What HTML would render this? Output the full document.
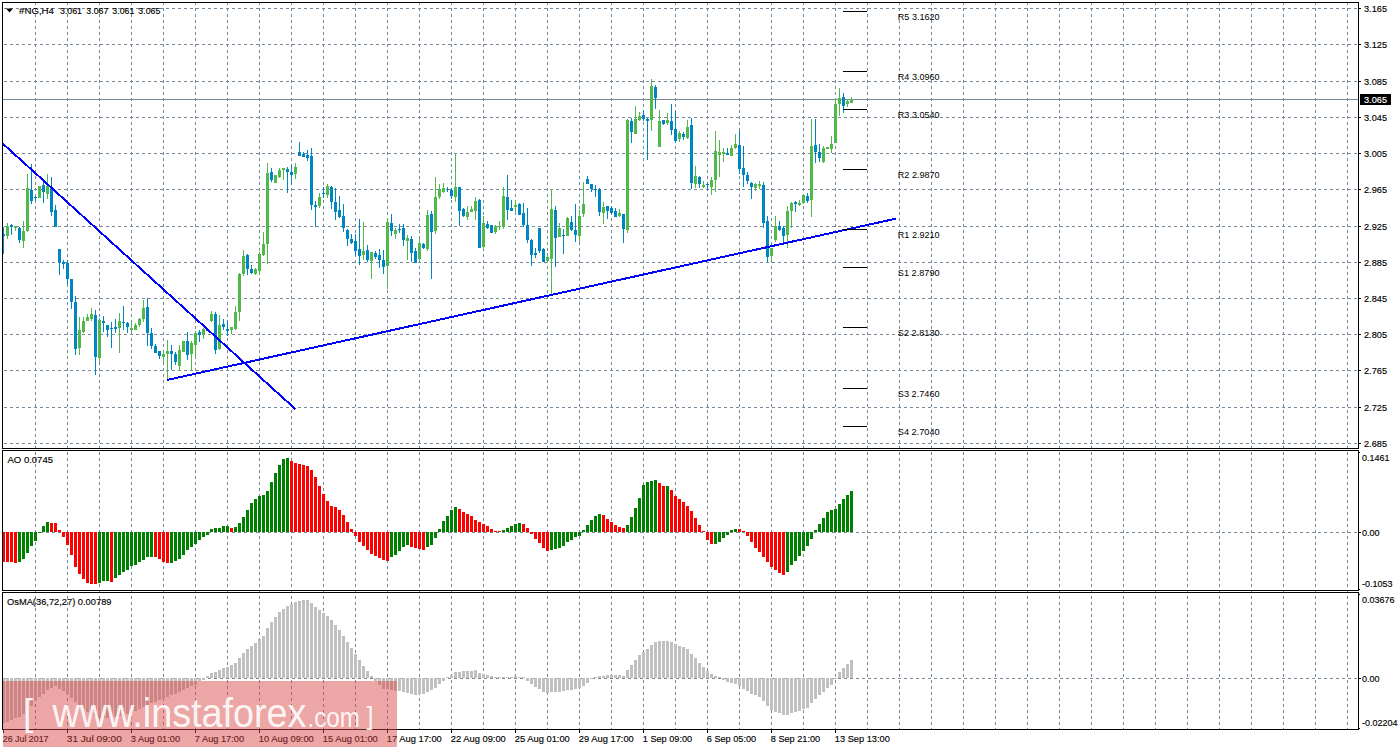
<!DOCTYPE html><html><head><meta charset="utf-8"><title>#NG,H4</title><style>
html,body{margin:0;padding:0;background:#fff;}body{width:1398px;height:750px;overflow:hidden;position:relative;font-family:"Liberation Sans",sans-serif;}
svg{position:absolute;left:0;top:0;display:block}
text{font-family:"Liberation Sans",sans-serif;font-size:9px;fill:#000}.t{font-size:9.7px;stroke:#000;stroke-width:0.15px}
.g line{stroke:#778899;stroke-width:1;stroke-dasharray:3 3}
.u rect{fill:#50B94A}.d rect{fill:#0085C3}.r rect{fill:#FF0000}.n rect{fill:#008000}.o rect{fill:#C0C0C0}
</style></head><body>
<svg width="1398" height="750" viewBox="0 0 1398 750">
<rect x="0" y="0" width="1398" height="750" fill="#fff"/>
<g class="g" shape-rendering="crispEdges">
<line x1="35.5" y1="2" x2="35.5" y2="729"/>
<line x1="67.5" y1="2" x2="67.5" y2="729"/>
<line x1="99.5" y1="2" x2="99.5" y2="729"/>
<line x1="131.5" y1="2" x2="131.5" y2="729"/>
<line x1="163.5" y1="2" x2="163.5" y2="729"/>
<line x1="195.5" y1="2" x2="195.5" y2="729"/>
<line x1="227.5" y1="2" x2="227.5" y2="729"/>
<line x1="259.5" y1="2" x2="259.5" y2="729"/>
<line x1="291.5" y1="2" x2="291.5" y2="729"/>
<line x1="323.5" y1="2" x2="323.5" y2="729"/>
<line x1="355.5" y1="2" x2="355.5" y2="729"/>
<line x1="387.5" y1="2" x2="387.5" y2="729"/>
<line x1="419.5" y1="2" x2="419.5" y2="729"/>
<line x1="451.5" y1="2" x2="451.5" y2="729"/>
<line x1="483.5" y1="2" x2="483.5" y2="729"/>
<line x1="515.5" y1="2" x2="515.5" y2="729"/>
<line x1="547.5" y1="2" x2="547.5" y2="729"/>
<line x1="579.5" y1="2" x2="579.5" y2="729"/>
<line x1="611.5" y1="2" x2="611.5" y2="729"/>
<line x1="643.5" y1="2" x2="643.5" y2="729"/>
<line x1="675.5" y1="2" x2="675.5" y2="729"/>
<line x1="707.5" y1="2" x2="707.5" y2="729"/>
<line x1="739.5" y1="2" x2="739.5" y2="729"/>
<line x1="771.5" y1="2" x2="771.5" y2="729"/>
<line x1="803.5" y1="2" x2="803.5" y2="729"/>
<line x1="835.5" y1="2" x2="835.5" y2="729"/>
<line x1="867.5" y1="2" x2="867.5" y2="729"/>
<line x1="899.5" y1="2" x2="899.5" y2="729"/>
<line x1="931.5" y1="2" x2="931.5" y2="729"/>
<line x1="963.5" y1="2" x2="963.5" y2="729"/>
<line x1="995.5" y1="2" x2="995.5" y2="729"/>
<line x1="1027.5" y1="2" x2="1027.5" y2="729"/>
<line x1="1059.5" y1="2" x2="1059.5" y2="729"/>
<line x1="1091.5" y1="2" x2="1091.5" y2="729"/>
<line x1="1123.5" y1="2" x2="1123.5" y2="729"/>
<line x1="1155.5" y1="2" x2="1155.5" y2="729"/>
<line x1="1187.5" y1="2" x2="1187.5" y2="729"/>
<line x1="1219.5" y1="2" x2="1219.5" y2="729"/>
<line x1="1251.5" y1="2" x2="1251.5" y2="729"/>
<line x1="1283.5" y1="2" x2="1283.5" y2="729"/>
<line x1="1315.5" y1="2" x2="1315.5" y2="729"/>
<line x1="1347.5" y1="2" x2="1347.5" y2="729"/>
<line x1="4" y1="8.5" x2="1358" y2="8.5"/>
<line x1="4" y1="44.5" x2="1358" y2="44.5"/>
<line x1="4" y1="81.5" x2="1358" y2="81.5"/>
<line x1="4" y1="117.5" x2="1358" y2="117.5"/>
<line x1="4" y1="153.5" x2="1358" y2="153.5"/>
<line x1="4" y1="189.5" x2="1358" y2="189.5"/>
<line x1="4" y1="226.5" x2="1358" y2="226.5"/>
<line x1="4" y1="262.5" x2="1358" y2="262.5"/>
<line x1="4" y1="298.5" x2="1358" y2="298.5"/>
<line x1="4" y1="334.5" x2="1358" y2="334.5"/>
<line x1="4" y1="370.5" x2="1358" y2="370.5"/>
<line x1="4" y1="407.5" x2="1358" y2="407.5"/>
<line x1="4" y1="443.5" x2="1358" y2="443.5"/>
<line x1="4" y1="532.5" x2="1358" y2="532.5"/>
<line x1="4" y1="678.5" x2="1358" y2="678.5"/>
</g>
<rect x="3" y="99" width="1355" height="1" fill="#778899" shape-rendering="crispEdges"/>
<g shape-rendering="crispEdges"><g class="u"><rect x="7" y="223" width="1" height="16"/><rect x="6" y="226" width="3" height="10"/><rect x="15" y="226" width="1" height="5"/><rect x="14" y="226" width="3" height="2"/><rect x="23" y="221" width="1" height="27"/><rect x="22" y="231" width="3" height="10"/><rect x="27" y="174" width="1" height="58"/><rect x="26" y="188" width="3" height="43"/><rect x="39" y="186" width="1" height="12"/><rect x="38" y="186" width="3" height="12"/><rect x="47" y="174" width="1" height="25"/><rect x="46" y="186" width="3" height="8"/><rect x="79" y="317" width="1" height="38"/><rect x="78" y="330" width="3" height="18"/><rect x="83" y="317" width="1" height="16"/><rect x="82" y="321" width="3" height="11"/><rect x="87" y="314" width="1" height="7"/><rect x="86" y="317" width="3" height="4"/><rect x="91" y="308" width="1" height="13"/><rect x="90" y="314" width="3" height="5"/><rect x="99" y="318" width="1" height="44"/><rect x="98" y="320" width="3" height="38"/><rect x="119" y="313" width="1" height="40"/><rect x="118" y="321" width="3" height="7"/><rect x="131" y="322" width="1" height="10"/><rect x="130" y="328" width="3" height="2"/><rect x="135" y="323" width="1" height="7"/><rect x="134" y="325" width="3" height="5"/><rect x="139" y="318" width="1" height="9"/><rect x="138" y="319" width="3" height="6"/><rect x="143" y="300" width="1" height="22"/><rect x="142" y="308" width="3" height="11"/><rect x="163" y="351" width="1" height="11"/><rect x="162" y="354" width="3" height="3"/><rect x="167" y="340" width="1" height="40"/><rect x="166" y="351" width="3" height="3"/><rect x="179" y="345" width="1" height="26"/><rect x="178" y="350" width="3" height="16"/><rect x="183" y="341" width="1" height="11"/><rect x="182" y="341" width="3" height="11"/><rect x="191" y="341" width="1" height="30"/><rect x="190" y="343" width="3" height="11"/><rect x="195" y="331" width="1" height="27"/><rect x="194" y="333" width="3" height="12"/><rect x="203" y="328" width="1" height="11"/><rect x="202" y="329" width="3" height="5"/><rect x="211" y="311" width="1" height="11"/><rect x="210" y="314" width="3" height="7"/><rect x="219" y="315" width="1" height="35"/><rect x="218" y="325" width="3" height="24"/><rect x="231" y="327" width="1" height="7"/><rect x="230" y="327" width="3" height="3"/><rect x="235" y="306" width="1" height="24"/><rect x="234" y="312" width="3" height="17"/><rect x="239" y="273" width="1" height="48"/><rect x="238" y="274" width="3" height="38"/><rect x="243" y="250" width="1" height="26"/><rect x="242" y="256" width="3" height="18"/><rect x="255" y="268" width="1" height="7"/><rect x="254" y="269" width="3" height="5"/><rect x="259" y="252" width="1" height="23"/><rect x="258" y="254" width="3" height="17"/><rect x="263" y="232" width="1" height="24"/><rect x="262" y="244" width="3" height="11"/><rect x="267" y="163" width="1" height="101"/><rect x="266" y="173" width="3" height="71"/><rect x="275" y="175" width="1" height="8"/><rect x="274" y="175" width="3" height="8"/><rect x="279" y="168" width="1" height="10"/><rect x="278" y="170" width="3" height="7"/><rect x="283" y="168" width="1" height="12"/><rect x="282" y="168" width="3" height="2"/><rect x="295" y="163" width="1" height="16"/><rect x="294" y="167" width="3" height="7"/><rect x="319" y="193" width="1" height="15"/><rect x="318" y="197" width="3" height="9"/><rect x="327" y="184" width="1" height="14"/><rect x="326" y="186" width="3" height="9"/><rect x="363" y="222" width="1" height="38"/><rect x="362" y="251" width="3" height="4"/><rect x="371" y="252" width="1" height="27"/><rect x="370" y="252" width="3" height="9"/><rect x="387" y="219" width="1" height="70"/><rect x="386" y="222" width="3" height="44"/><rect x="395" y="228" width="1" height="11"/><rect x="394" y="230" width="3" height="4"/><rect x="407" y="235" width="1" height="25"/><rect x="406" y="238" width="3" height="3"/><rect x="419" y="238" width="1" height="22"/><rect x="418" y="243" width="3" height="16"/><rect x="427" y="210" width="1" height="41"/><rect x="426" y="215" width="3" height="34"/><rect x="435" y="177" width="1" height="57"/><rect x="434" y="197" width="3" height="34"/><rect x="439" y="184" width="1" height="15"/><rect x="438" y="189" width="3" height="8"/><rect x="443" y="183" width="1" height="10"/><rect x="442" y="188" width="3" height="4"/><rect x="455" y="153" width="1" height="49"/><rect x="454" y="187" width="3" height="10"/><rect x="467" y="206" width="1" height="14"/><rect x="466" y="212" width="3" height="5"/><rect x="471" y="206" width="1" height="6"/><rect x="470" y="209" width="3" height="3"/><rect x="475" y="197" width="1" height="23"/><rect x="474" y="201" width="3" height="10"/><rect x="483" y="216" width="1" height="34"/><rect x="482" y="223" width="3" height="24"/><rect x="495" y="225" width="1" height="9"/><rect x="494" y="226" width="3" height="6"/><rect x="499" y="221" width="1" height="9"/><rect x="498" y="226" width="3" height="1"/><rect x="503" y="187" width="1" height="42"/><rect x="502" y="196" width="3" height="31"/><rect x="515" y="200" width="1" height="12"/><rect x="514" y="205" width="3" height="2"/><rect x="547" y="253" width="1" height="9"/><rect x="546" y="257" width="3" height="4"/><rect x="551" y="189" width="1" height="105"/><rect x="550" y="209" width="3" height="50"/><rect x="559" y="223" width="1" height="14"/><rect x="558" y="228" width="3" height="9"/><rect x="567" y="217" width="1" height="19"/><rect x="566" y="218" width="3" height="18"/><rect x="579" y="210" width="1" height="32"/><rect x="578" y="216" width="3" height="20"/><rect x="583" y="182" width="1" height="35"/><rect x="582" y="204" width="3" height="10"/><rect x="603" y="202" width="1" height="22"/><rect x="602" y="207" width="3" height="6"/><rect x="619" y="209" width="1" height="8"/><rect x="618" y="213" width="3" height="3"/><rect x="627" y="119" width="1" height="114"/><rect x="626" y="120" width="3" height="110"/><rect x="635" y="106" width="1" height="28"/><rect x="634" y="119" width="3" height="15"/><rect x="639" y="112" width="1" height="9"/><rect x="638" y="116" width="3" height="4"/><rect x="651" y="79" width="1" height="52"/><rect x="650" y="86" width="3" height="34"/><rect x="659" y="110" width="1" height="37"/><rect x="658" y="121" width="3" height="26"/><rect x="667" y="113" width="1" height="12"/><rect x="666" y="120" width="3" height="3"/><rect x="679" y="131" width="1" height="11"/><rect x="678" y="133" width="3" height="6"/><rect x="687" y="120" width="1" height="19"/><rect x="686" y="127" width="3" height="11"/><rect x="695" y="166" width="1" height="22"/><rect x="694" y="176" width="3" height="8"/><rect x="703" y="181" width="1" height="7"/><rect x="702" y="185" width="3" height="2"/><rect x="711" y="177" width="1" height="18"/><rect x="710" y="180" width="3" height="7"/><rect x="715" y="131" width="1" height="61"/><rect x="714" y="151" width="3" height="29"/><rect x="719" y="140" width="1" height="37"/><rect x="718" y="152" width="3" height="3"/><rect x="723" y="148" width="1" height="14"/><rect x="722" y="152" width="3" height="2"/><rect x="731" y="145" width="1" height="11"/><rect x="730" y="148" width="3" height="8"/><rect x="735" y="134" width="1" height="15"/><rect x="734" y="144" width="3" height="4"/><rect x="755" y="183" width="1" height="8"/><rect x="754" y="184" width="3" height="4"/><rect x="759" y="181" width="1" height="8"/><rect x="758" y="184" width="3" height="2"/><rect x="771" y="248" width="1" height="14"/><rect x="770" y="248" width="3" height="8"/><rect x="775" y="216" width="1" height="26"/><rect x="774" y="226" width="3" height="14"/><rect x="787" y="206" width="1" height="42"/><rect x="786" y="211" width="3" height="24"/><rect x="791" y="202" width="1" height="26"/><rect x="790" y="203" width="3" height="8"/><rect x="799" y="200" width="1" height="6"/><rect x="798" y="203" width="3" height="2"/><rect x="803" y="195" width="1" height="9"/><rect x="802" y="195" width="3" height="8"/><rect x="811" y="119" width="1" height="98"/><rect x="810" y="146" width="3" height="54"/><rect x="823" y="146" width="1" height="17"/><rect x="822" y="148" width="3" height="14"/><rect x="827" y="147" width="1" height="2"/><rect x="826" y="147" width="3" height="2"/><rect x="831" y="136" width="1" height="17"/><rect x="830" y="144" width="3" height="5"/><rect x="835" y="99" width="1" height="44"/><rect x="834" y="104" width="3" height="39"/><rect x="839" y="88" width="1" height="28"/><rect x="838" y="98" width="3" height="6"/><rect x="847" y="100" width="1" height="7"/><rect x="846" y="101" width="3" height="3"/><rect x="851" y="97" width="1" height="6"/><rect x="850" y="99" width="3" height="4"/></g>
<g class="d"><rect x="3" y="227" width="1" height="27"/><rect x="2" y="234" width="3" height="2"/><rect x="11" y="224" width="1" height="11"/><rect x="10" y="225" width="3" height="2"/><rect x="19" y="227" width="1" height="16"/><rect x="18" y="228" width="3" height="12"/><rect x="31" y="164" width="1" height="40"/><rect x="30" y="190" width="3" height="11"/><rect x="35" y="196" width="1" height="5"/><rect x="34" y="197" width="3" height="1"/><rect x="43" y="182" width="1" height="21"/><rect x="42" y="185" width="3" height="7"/><rect x="51" y="177" width="1" height="39"/><rect x="50" y="188" width="3" height="24"/><rect x="55" y="205" width="1" height="22"/><rect x="54" y="210" width="3" height="17"/><rect x="59" y="249" width="1" height="26"/><rect x="58" y="249" width="3" height="13"/><rect x="63" y="260" width="1" height="9"/><rect x="62" y="262" width="3" height="2"/><rect x="67" y="260" width="1" height="24"/><rect x="66" y="263" width="3" height="16"/><rect x="71" y="279" width="1" height="30"/><rect x="70" y="279" width="3" height="23"/><rect x="75" y="296" width="1" height="59"/><rect x="74" y="302" width="3" height="47"/><rect x="95" y="310" width="1" height="65"/><rect x="94" y="315" width="3" height="42"/><rect x="103" y="316" width="1" height="16"/><rect x="102" y="321" width="3" height="2"/><rect x="107" y="325" width="1" height="12"/><rect x="106" y="325" width="3" height="5"/><rect x="111" y="322" width="1" height="26"/><rect x="110" y="328" width="3" height="1"/><rect x="115" y="319" width="1" height="14"/><rect x="114" y="327" width="3" height="2"/><rect x="123" y="306" width="1" height="24"/><rect x="122" y="322" width="3" height="1"/><rect x="127" y="322" width="1" height="11"/><rect x="126" y="323" width="3" height="4"/><rect x="147" y="298" width="1" height="48"/><rect x="146" y="307" width="3" height="26"/><rect x="151" y="328" width="1" height="21"/><rect x="150" y="333" width="3" height="13"/><rect x="155" y="344" width="1" height="9"/><rect x="154" y="346" width="3" height="7"/><rect x="159" y="351" width="1" height="8"/><rect x="158" y="351" width="3" height="5"/><rect x="171" y="345" width="1" height="25"/><rect x="170" y="351" width="3" height="3"/><rect x="175" y="352" width="1" height="13"/><rect x="174" y="354" width="3" height="8"/><rect x="187" y="332" width="1" height="28"/><rect x="186" y="341" width="3" height="14"/><rect x="199" y="330" width="1" height="12"/><rect x="198" y="332" width="3" height="3"/><rect x="207" y="330" width="1" height="1"/><rect x="206" y="330" width="3" height="1"/><rect x="215" y="312" width="1" height="42"/><rect x="214" y="314" width="3" height="36"/><rect x="223" y="319" width="1" height="11"/><rect x="222" y="324" width="3" height="3"/><rect x="227" y="321" width="1" height="15"/><rect x="226" y="329" width="3" height="2"/><rect x="247" y="254" width="1" height="21"/><rect x="246" y="255" width="3" height="14"/><rect x="251" y="265" width="1" height="9"/><rect x="250" y="269" width="3" height="4"/><rect x="271" y="168" width="1" height="14"/><rect x="270" y="172" width="3" height="8"/><rect x="287" y="167" width="1" height="26"/><rect x="286" y="169" width="3" height="3"/><rect x="291" y="165" width="1" height="20"/><rect x="290" y="172" width="3" height="3"/><rect x="299" y="142" width="1" height="14"/><rect x="298" y="152" width="3" height="4"/><rect x="303" y="152" width="1" height="5"/><rect x="302" y="154" width="3" height="3"/><rect x="307" y="150" width="1" height="11"/><rect x="306" y="155" width="3" height="3"/><rect x="311" y="148" width="1" height="62"/><rect x="310" y="156" width="3" height="49"/><rect x="315" y="201" width="1" height="26"/><rect x="314" y="205" width="3" height="2"/><rect x="323" y="187" width="1" height="11"/><rect x="322" y="193" width="3" height="1"/><rect x="331" y="186" width="1" height="23"/><rect x="330" y="187" width="3" height="15"/><rect x="335" y="188" width="1" height="32"/><rect x="334" y="202" width="3" height="10"/><rect x="339" y="196" width="1" height="22"/><rect x="338" y="210" width="3" height="7"/><rect x="343" y="204" width="1" height="28"/><rect x="342" y="216" width="3" height="12"/><rect x="347" y="229" width="1" height="17"/><rect x="346" y="230" width="3" height="9"/><rect x="351" y="234" width="1" height="10"/><rect x="350" y="239" width="3" height="4"/><rect x="355" y="234" width="1" height="22"/><rect x="354" y="241" width="3" height="10"/><rect x="359" y="219" width="1" height="46"/><rect x="358" y="249" width="3" height="7"/><rect x="367" y="245" width="1" height="17"/><rect x="366" y="250" width="3" height="10"/><rect x="375" y="251" width="1" height="8"/><rect x="374" y="253" width="3" height="4"/><rect x="379" y="249" width="1" height="19"/><rect x="378" y="255" width="3" height="5"/><rect x="383" y="250" width="1" height="24"/><rect x="382" y="260" width="3" height="7"/><rect x="391" y="214" width="1" height="22"/><rect x="390" y="223" width="3" height="8"/><rect x="399" y="224" width="1" height="9"/><rect x="398" y="229" width="3" height="1"/><rect x="403" y="224" width="1" height="22"/><rect x="402" y="228" width="3" height="12"/><rect x="411" y="236" width="1" height="26"/><rect x="410" y="239" width="3" height="14"/><rect x="415" y="248" width="1" height="15"/><rect x="414" y="251" width="3" height="12"/><rect x="423" y="243" width="1" height="6"/><rect x="422" y="244" width="3" height="4"/><rect x="431" y="211" width="1" height="68"/><rect x="430" y="214" width="3" height="18"/><rect x="447" y="187" width="1" height="5"/><rect x="446" y="189" width="3" height="1"/><rect x="451" y="188" width="1" height="11"/><rect x="450" y="190" width="3" height="6"/><rect x="459" y="187" width="1" height="39"/><rect x="458" y="187" width="3" height="24"/><rect x="463" y="208" width="1" height="9"/><rect x="462" y="209" width="3" height="7"/><rect x="479" y="199" width="1" height="49"/><rect x="478" y="200" width="3" height="48"/><rect x="487" y="221" width="1" height="8"/><rect x="486" y="224" width="3" height="4"/><rect x="491" y="225" width="1" height="8"/><rect x="490" y="225" width="3" height="8"/><rect x="507" y="175" width="1" height="45"/><rect x="506" y="197" width="3" height="13"/><rect x="511" y="200" width="1" height="11"/><rect x="510" y="208" width="3" height="3"/><rect x="519" y="203" width="1" height="12"/><rect x="518" y="204" width="3" height="11"/><rect x="523" y="203" width="1" height="24"/><rect x="522" y="213" width="3" height="12"/><rect x="527" y="208" width="1" height="35"/><rect x="526" y="225" width="3" height="15"/><rect x="531" y="239" width="1" height="27"/><rect x="530" y="240" width="3" height="15"/><rect x="535" y="248" width="1" height="10"/><rect x="534" y="253" width="3" height="2"/><rect x="539" y="228" width="1" height="25"/><rect x="538" y="228" width="3" height="23"/><rect x="543" y="248" width="1" height="14"/><rect x="542" y="249" width="3" height="13"/><rect x="555" y="206" width="1" height="61"/><rect x="554" y="210" width="3" height="28"/><rect x="563" y="229" width="1" height="25"/><rect x="562" y="235" width="3" height="1"/><rect x="571" y="216" width="1" height="15"/><rect x="570" y="222" width="3" height="8"/><rect x="575" y="204" width="1" height="38"/><rect x="574" y="230" width="3" height="5"/><rect x="587" y="176" width="1" height="8"/><rect x="586" y="179" width="3" height="5"/><rect x="591" y="184" width="1" height="8"/><rect x="590" y="184" width="3" height="5"/><rect x="595" y="185" width="1" height="12"/><rect x="594" y="189" width="3" height="1"/><rect x="599" y="188" width="1" height="28"/><rect x="598" y="189" width="3" height="23"/><rect x="607" y="206" width="1" height="13"/><rect x="606" y="206" width="3" height="5"/><rect x="611" y="206" width="1" height="8"/><rect x="610" y="208" width="3" height="5"/><rect x="615" y="208" width="1" height="9"/><rect x="614" y="211" width="3" height="6"/><rect x="623" y="214" width="1" height="29"/><rect x="622" y="214" width="3" height="15"/><rect x="631" y="118" width="1" height="25"/><rect x="630" y="121" width="3" height="11"/><rect x="643" y="110" width="1" height="11"/><rect x="642" y="115" width="3" height="4"/><rect x="647" y="118" width="1" height="42"/><rect x="646" y="119" width="3" height="2"/><rect x="655" y="85" width="1" height="24"/><rect x="654" y="87" width="3" height="11"/><rect x="663" y="120" width="1" height="5"/><rect x="662" y="120" width="3" height="4"/><rect x="671" y="104" width="1" height="31"/><rect x="670" y="121" width="3" height="9"/><rect x="675" y="111" width="1" height="32"/><rect x="674" y="129" width="3" height="12"/><rect x="683" y="132" width="1" height="8"/><rect x="682" y="134" width="3" height="3"/><rect x="691" y="118" width="1" height="71"/><rect x="690" y="125" width="3" height="58"/><rect x="699" y="176" width="1" height="12"/><rect x="698" y="177" width="3" height="7"/><rect x="707" y="182" width="1" height="8"/><rect x="706" y="184" width="3" height="1"/><rect x="727" y="148" width="1" height="7"/><rect x="726" y="153" width="3" height="2"/><rect x="739" y="131" width="1" height="43"/><rect x="738" y="145" width="3" height="24"/><rect x="743" y="146" width="1" height="41"/><rect x="742" y="168" width="3" height="7"/><rect x="747" y="172" width="1" height="12"/><rect x="746" y="175" width="3" height="6"/><rect x="751" y="182" width="1" height="17"/><rect x="750" y="183" width="3" height="4"/><rect x="763" y="182" width="1" height="46"/><rect x="762" y="185" width="3" height="38"/><rect x="767" y="216" width="1" height="46"/><rect x="766" y="221" width="3" height="36"/><rect x="779" y="221" width="1" height="10"/><rect x="778" y="226" width="3" height="4"/><rect x="783" y="226" width="1" height="17"/><rect x="782" y="228" width="3" height="8"/><rect x="795" y="201" width="1" height="11"/><rect x="794" y="202" width="3" height="2"/><rect x="807" y="193" width="1" height="10"/><rect x="806" y="196" width="3" height="5"/><rect x="815" y="119" width="1" height="44"/><rect x="814" y="145" width="3" height="7"/><rect x="819" y="144" width="1" height="18"/><rect x="818" y="152" width="3" height="6"/><rect x="843" y="93" width="1" height="20"/><rect x="842" y="97" width="3" height="9"/></g></g>
<g shape-rendering="crispEdges"><g class="r"><rect x="2" y="532" width="3" height="30"/><rect x="6" y="532" width="3" height="30"/><rect x="10" y="532" width="3" height="30"/><rect x="14" y="532" width="3" height="31"/><rect x="50" y="523" width="3" height="9"/><rect x="54" y="523" width="3" height="9"/><rect x="58" y="530" width="3" height="2"/><rect x="62" y="532" width="3" height="5"/><rect x="66" y="532" width="3" height="13"/><rect x="70" y="532" width="3" height="23"/><rect x="74" y="532" width="3" height="35"/><rect x="78" y="532" width="3" height="42"/><rect x="82" y="532" width="3" height="47"/><rect x="86" y="532" width="3" height="51"/><rect x="90" y="532" width="3" height="52"/><rect x="94" y="532" width="3" height="52"/><rect x="110" y="532" width="3" height="50"/><rect x="154" y="532" width="3" height="25"/><rect x="158" y="532" width="3" height="27"/><rect x="162" y="532" width="3" height="30"/><rect x="166" y="532" width="3" height="31"/><rect x="230" y="528" width="3" height="4"/><rect x="290" y="461" width="3" height="71"/><rect x="294" y="463" width="3" height="69"/><rect x="298" y="464" width="3" height="68"/><rect x="302" y="465" width="3" height="67"/><rect x="306" y="466" width="3" height="66"/><rect x="310" y="470" width="3" height="62"/><rect x="314" y="477" width="3" height="55"/><rect x="318" y="486" width="3" height="46"/><rect x="322" y="494" width="3" height="38"/><rect x="326" y="501" width="3" height="31"/><rect x="330" y="506" width="3" height="26"/><rect x="334" y="507" width="3" height="25"/><rect x="338" y="510" width="3" height="22"/><rect x="342" y="515" width="3" height="17"/><rect x="346" y="522" width="3" height="10"/><rect x="350" y="529" width="3" height="3"/><rect x="354" y="532" width="3" height="4"/><rect x="358" y="532" width="3" height="10"/><rect x="362" y="532" width="3" height="14"/><rect x="366" y="532" width="3" height="18"/><rect x="370" y="532" width="3" height="22"/><rect x="374" y="532" width="3" height="24"/><rect x="378" y="532" width="3" height="26"/><rect x="382" y="532" width="3" height="28"/><rect x="386" y="532" width="3" height="29"/><rect x="410" y="532" width="3" height="15"/><rect x="414" y="532" width="3" height="16"/><rect x="418" y="532" width="3" height="17"/><rect x="422" y="532" width="3" height="18"/><rect x="458" y="509" width="3" height="23"/><rect x="462" y="512" width="3" height="20"/><rect x="466" y="514" width="3" height="18"/><rect x="470" y="516" width="3" height="16"/><rect x="474" y="520" width="3" height="12"/><rect x="478" y="522" width="3" height="10"/><rect x="482" y="524" width="3" height="8"/><rect x="486" y="526" width="3" height="6"/><rect x="490" y="529" width="3" height="3"/><rect x="494" y="531" width="3" height="1"/><rect x="498" y="531" width="3" height="1"/><rect x="522" y="524" width="3" height="8"/><rect x="526" y="528" width="3" height="4"/><rect x="530" y="532" width="3" height="2"/><rect x="534" y="532" width="3" height="7"/><rect x="538" y="532" width="3" height="11"/><rect x="542" y="532" width="3" height="16"/><rect x="546" y="532" width="3" height="19"/><rect x="602" y="515" width="3" height="17"/><rect x="606" y="519" width="3" height="13"/><rect x="610" y="522" width="3" height="10"/><rect x="614" y="525" width="3" height="7"/><rect x="618" y="527" width="3" height="5"/><rect x="622" y="528" width="3" height="4"/><rect x="658" y="483" width="3" height="49"/><rect x="662" y="486" width="3" height="46"/><rect x="670" y="490" width="3" height="42"/><rect x="674" y="496" width="3" height="36"/><rect x="678" y="499" width="3" height="33"/><rect x="682" y="502" width="3" height="30"/><rect x="686" y="506" width="3" height="26"/><rect x="690" y="511" width="3" height="21"/><rect x="694" y="518" width="3" height="14"/><rect x="698" y="525" width="3" height="7"/><rect x="702" y="531" width="3" height="1"/><rect x="706" y="532" width="3" height="8"/><rect x="710" y="532" width="3" height="12"/><rect x="738" y="529" width="3" height="3"/><rect x="742" y="531" width="3" height="1"/><rect x="746" y="532" width="3" height="4"/><rect x="750" y="532" width="3" height="10"/><rect x="754" y="532" width="3" height="16"/><rect x="758" y="532" width="3" height="20"/><rect x="762" y="532" width="3" height="25"/><rect x="766" y="532" width="3" height="30"/><rect x="770" y="532" width="3" height="35"/><rect x="774" y="532" width="3" height="38"/><rect x="778" y="532" width="3" height="41"/><rect x="782" y="532" width="3" height="43"/></g><g class="n"><rect x="18" y="532" width="3" height="30"/><rect x="22" y="532" width="3" height="27"/><rect x="26" y="532" width="3" height="21"/><rect x="30" y="532" width="3" height="14"/><rect x="34" y="532" width="3" height="9"/><rect x="38" y="532" width="3" height="1"/><rect x="42" y="526" width="3" height="6"/><rect x="46" y="522" width="3" height="10"/><rect x="98" y="532" width="3" height="51"/><rect x="102" y="532" width="3" height="49"/><rect x="106" y="532" width="3" height="49"/><rect x="114" y="532" width="3" height="46"/><rect x="118" y="532" width="3" height="43"/><rect x="122" y="532" width="3" height="40"/><rect x="126" y="532" width="3" height="38"/><rect x="130" y="532" width="3" height="34"/><rect x="134" y="532" width="3" height="33"/><rect x="138" y="532" width="3" height="30"/><rect x="142" y="532" width="3" height="28"/><rect x="146" y="532" width="3" height="25"/><rect x="150" y="532" width="3" height="25"/><rect x="170" y="532" width="3" height="31"/><rect x="174" y="532" width="3" height="29"/><rect x="178" y="532" width="3" height="27"/><rect x="182" y="532" width="3" height="23"/><rect x="186" y="532" width="3" height="18"/><rect x="190" y="532" width="3" height="15"/><rect x="194" y="532" width="3" height="12"/><rect x="198" y="532" width="3" height="8"/><rect x="202" y="532" width="3" height="5"/><rect x="206" y="532" width="3" height="3"/><rect x="210" y="529" width="3" height="3"/><rect x="214" y="528" width="3" height="4"/><rect x="218" y="528" width="3" height="4"/><rect x="222" y="526" width="3" height="6"/><rect x="226" y="526" width="3" height="6"/><rect x="234" y="527" width="3" height="5"/><rect x="238" y="523" width="3" height="9"/><rect x="242" y="517" width="3" height="15"/><rect x="246" y="510" width="3" height="22"/><rect x="250" y="503" width="3" height="29"/><rect x="254" y="499" width="3" height="33"/><rect x="258" y="496" width="3" height="36"/><rect x="262" y="495" width="3" height="37"/><rect x="266" y="491" width="3" height="41"/><rect x="270" y="482" width="3" height="50"/><rect x="274" y="473" width="3" height="59"/><rect x="278" y="465" width="3" height="67"/><rect x="282" y="459" width="3" height="73"/><rect x="286" y="458" width="3" height="74"/><rect x="390" y="532" width="3" height="25"/><rect x="394" y="532" width="3" height="23"/><rect x="398" y="532" width="3" height="19"/><rect x="402" y="532" width="3" height="15"/><rect x="406" y="532" width="3" height="13"/><rect x="426" y="532" width="3" height="15"/><rect x="430" y="532" width="3" height="13"/><rect x="434" y="532" width="3" height="6"/><rect x="438" y="529" width="3" height="3"/><rect x="442" y="521" width="3" height="11"/><rect x="446" y="516" width="3" height="16"/><rect x="450" y="510" width="3" height="22"/><rect x="454" y="507" width="3" height="25"/><rect x="502" y="530" width="3" height="2"/><rect x="506" y="528" width="3" height="4"/><rect x="510" y="526" width="3" height="6"/><rect x="514" y="524" width="3" height="8"/><rect x="518" y="523" width="3" height="9"/><rect x="550" y="532" width="3" height="18"/><rect x="554" y="532" width="3" height="17"/><rect x="558" y="532" width="3" height="16"/><rect x="562" y="532" width="3" height="14"/><rect x="566" y="532" width="3" height="10"/><rect x="570" y="532" width="3" height="8"/><rect x="574" y="532" width="3" height="5"/><rect x="578" y="532" width="3" height="4"/><rect x="582" y="530" width="3" height="2"/><rect x="586" y="525" width="3" height="7"/><rect x="590" y="520" width="3" height="12"/><rect x="594" y="516" width="3" height="16"/><rect x="598" y="514" width="3" height="18"/><rect x="626" y="525" width="3" height="7"/><rect x="630" y="517" width="3" height="15"/><rect x="634" y="508" width="3" height="24"/><rect x="638" y="498" width="3" height="34"/><rect x="642" y="485" width="3" height="47"/><rect x="646" y="482" width="3" height="50"/><rect x="650" y="481" width="3" height="51"/><rect x="654" y="480" width="3" height="52"/><rect x="666" y="486" width="3" height="46"/><rect x="714" y="532" width="3" height="12"/><rect x="718" y="532" width="3" height="10"/><rect x="722" y="532" width="3" height="6"/><rect x="726" y="532" width="3" height="3"/><rect x="730" y="530" width="3" height="2"/><rect x="734" y="529" width="3" height="3"/><rect x="786" y="532" width="3" height="40"/><rect x="790" y="532" width="3" height="33"/><rect x="794" y="532" width="3" height="29"/><rect x="798" y="532" width="3" height="24"/><rect x="802" y="532" width="3" height="19"/><rect x="806" y="532" width="3" height="14"/><rect x="810" y="532" width="3" height="7"/><rect x="814" y="530" width="3" height="2"/><rect x="818" y="524" width="3" height="8"/><rect x="822" y="518" width="3" height="14"/><rect x="826" y="512" width="3" height="20"/><rect x="830" y="510" width="3" height="22"/><rect x="834" y="509" width="3" height="23"/><rect x="838" y="504" width="3" height="28"/><rect x="842" y="499" width="3" height="33"/><rect x="846" y="495" width="3" height="37"/><rect x="850" y="491" width="3" height="41"/></g></g>
<g class="o" shape-rendering="crispEdges"><rect x="2" y="678" width="3" height="45"/><rect x="6" y="678" width="3" height="44"/><rect x="10" y="678" width="3" height="42"/><rect x="14" y="678" width="3" height="40"/><rect x="18" y="678" width="3" height="39"/><rect x="22" y="678" width="3" height="36"/><rect x="26" y="678" width="3" height="32"/><rect x="30" y="678" width="3" height="28"/><rect x="34" y="678" width="3" height="23"/><rect x="38" y="678" width="3" height="19"/><rect x="42" y="678" width="3" height="16"/><rect x="46" y="678" width="3" height="12"/><rect x="50" y="678" width="3" height="10"/><rect x="54" y="678" width="3" height="8"/><rect x="58" y="678" width="3" height="11"/><rect x="62" y="678" width="3" height="13"/><rect x="66" y="678" width="3" height="16"/><rect x="70" y="678" width="3" height="20"/><rect x="74" y="678" width="3" height="24"/><rect x="78" y="678" width="3" height="28"/><rect x="82" y="678" width="3" height="31"/><rect x="86" y="678" width="3" height="34"/><rect x="90" y="678" width="3" height="36"/><rect x="94" y="678" width="3" height="38"/><rect x="98" y="678" width="3" height="39"/><rect x="102" y="678" width="3" height="40"/><rect x="106" y="678" width="3" height="40"/><rect x="110" y="678" width="3" height="39"/><rect x="114" y="678" width="3" height="39"/><rect x="118" y="678" width="3" height="38"/><rect x="122" y="678" width="3" height="38"/><rect x="126" y="678" width="3" height="36"/><rect x="130" y="678" width="3" height="35"/><rect x="134" y="678" width="3" height="33"/><rect x="138" y="678" width="3" height="31"/><rect x="142" y="678" width="3" height="29"/><rect x="146" y="678" width="3" height="27"/><rect x="150" y="678" width="3" height="25"/><rect x="154" y="678" width="3" height="24"/><rect x="158" y="678" width="3" height="22"/><rect x="162" y="678" width="3" height="21"/><rect x="166" y="678" width="3" height="19"/><rect x="170" y="678" width="3" height="17"/><rect x="174" y="678" width="3" height="16"/><rect x="178" y="678" width="3" height="14"/><rect x="182" y="678" width="3" height="12"/><rect x="186" y="678" width="3" height="10"/><rect x="190" y="678" width="3" height="8"/><rect x="194" y="678" width="3" height="7"/><rect x="198" y="678" width="3" height="3"/><rect x="202" y="678" width="3" height="2"/><rect x="206" y="676" width="3" height="2"/><rect x="210" y="673" width="3" height="5"/><rect x="214" y="672" width="3" height="6"/><rect x="218" y="670" width="3" height="8"/><rect x="222" y="668" width="3" height="10"/><rect x="226" y="667" width="3" height="11"/><rect x="230" y="665" width="3" height="13"/><rect x="234" y="663" width="3" height="15"/><rect x="238" y="658" width="3" height="20"/><rect x="242" y="653" width="3" height="25"/><rect x="246" y="649" width="3" height="29"/><rect x="250" y="646" width="3" height="32"/><rect x="254" y="643" width="3" height="35"/><rect x="258" y="639" width="3" height="39"/><rect x="262" y="636" width="3" height="42"/><rect x="266" y="628" width="3" height="50"/><rect x="270" y="622" width="3" height="56"/><rect x="274" y="617" width="3" height="61"/><rect x="278" y="612" width="3" height="66"/><rect x="282" y="609" width="3" height="69"/><rect x="286" y="606" width="3" height="72"/><rect x="290" y="604" width="3" height="74"/><rect x="294" y="602" width="3" height="76"/><rect x="298" y="601" width="3" height="77"/><rect x="302" y="600" width="3" height="78"/><rect x="306" y="600" width="3" height="78"/><rect x="310" y="603" width="3" height="75"/><rect x="314" y="607" width="3" height="71"/><rect x="318" y="610" width="3" height="68"/><rect x="322" y="613" width="3" height="65"/><rect x="326" y="616" width="3" height="62"/><rect x="330" y="620" width="3" height="58"/><rect x="334" y="625" width="3" height="53"/><rect x="338" y="630" width="3" height="48"/><rect x="342" y="636" width="3" height="42"/><rect x="346" y="642" width="3" height="36"/><rect x="350" y="648" width="3" height="30"/><rect x="354" y="654" width="3" height="24"/><rect x="358" y="660" width="3" height="18"/><rect x="362" y="666" width="3" height="12"/><rect x="366" y="671" width="3" height="7"/><rect x="370" y="676" width="3" height="2"/><rect x="374" y="678" width="3" height="3"/><rect x="378" y="678" width="3" height="7"/><rect x="382" y="678" width="3" height="11"/><rect x="386" y="678" width="3" height="11"/><rect x="390" y="678" width="3" height="12"/><rect x="394" y="678" width="3" height="13"/><rect x="398" y="678" width="3" height="13"/><rect x="402" y="678" width="3" height="14"/><rect x="406" y="678" width="3" height="15"/><rect x="410" y="678" width="3" height="16"/><rect x="414" y="678" width="3" height="17"/><rect x="418" y="678" width="3" height="16"/><rect x="422" y="678" width="3" height="16"/><rect x="426" y="678" width="3" height="14"/><rect x="430" y="678" width="3" height="12"/><rect x="434" y="678" width="3" height="10"/><rect x="438" y="678" width="3" height="6"/><rect x="442" y="678" width="3" height="3"/><rect x="446" y="677" width="3" height="1"/><rect x="450" y="675" width="3" height="3"/><rect x="454" y="672" width="3" height="6"/><rect x="458" y="672" width="3" height="6"/><rect x="462" y="671" width="3" height="7"/><rect x="466" y="671" width="3" height="7"/><rect x="470" y="671" width="3" height="7"/><rect x="474" y="670" width="3" height="8"/><rect x="478" y="673" width="3" height="5"/><rect x="482" y="674" width="3" height="4"/><rect x="486" y="675" width="3" height="3"/><rect x="490" y="676" width="3" height="2"/><rect x="494" y="677" width="3" height="1"/><rect x="498" y="677" width="3" height="1"/><rect x="502" y="677" width="3" height="1"/><rect x="506" y="677" width="3" height="1"/><rect x="510" y="677" width="3" height="1"/><rect x="514" y="676" width="3" height="2"/><rect x="518" y="677" width="3" height="1"/><rect x="522" y="677" width="3" height="1"/><rect x="526" y="678" width="3" height="3"/><rect x="530" y="678" width="3" height="6"/><rect x="534" y="678" width="3" height="9"/><rect x="538" y="678" width="3" height="11"/><rect x="542" y="678" width="3" height="14"/><rect x="546" y="678" width="3" height="15"/><rect x="550" y="678" width="3" height="14"/><rect x="554" y="678" width="3" height="14"/><rect x="558" y="678" width="3" height="14"/><rect x="562" y="678" width="3" height="13"/><rect x="566" y="678" width="3" height="12"/><rect x="570" y="678" width="3" height="12"/><rect x="574" y="678" width="3" height="11"/><rect x="578" y="678" width="3" height="10"/><rect x="582" y="678" width="3" height="8"/><rect x="586" y="678" width="3" height="5"/><rect x="590" y="678" width="3" height="1"/><rect x="594" y="677" width="3" height="1"/><rect x="598" y="676" width="3" height="2"/><rect x="602" y="676" width="3" height="2"/><rect x="606" y="675" width="3" height="3"/><rect x="610" y="675" width="3" height="3"/><rect x="614" y="675" width="3" height="3"/><rect x="618" y="675" width="3" height="3"/><rect x="622" y="676" width="3" height="2"/><rect x="626" y="670" width="3" height="8"/><rect x="630" y="665" width="3" height="13"/><rect x="634" y="660" width="3" height="18"/><rect x="638" y="655" width="3" height="23"/><rect x="642" y="652" width="3" height="26"/><rect x="646" y="649" width="3" height="29"/><rect x="650" y="645" width="3" height="33"/><rect x="654" y="642" width="3" height="36"/><rect x="658" y="641" width="3" height="37"/><rect x="662" y="641" width="3" height="37"/><rect x="666" y="641" width="3" height="37"/><rect x="670" y="642" width="3" height="36"/><rect x="674" y="644" width="3" height="34"/><rect x="678" y="646" width="3" height="32"/><rect x="682" y="647" width="3" height="31"/><rect x="686" y="649" width="3" height="29"/><rect x="690" y="654" width="3" height="24"/><rect x="694" y="658" width="3" height="20"/><rect x="698" y="663" width="3" height="15"/><rect x="702" y="667" width="3" height="11"/><rect x="706" y="671" width="3" height="7"/><rect x="710" y="674" width="3" height="4"/><rect x="714" y="676" width="3" height="2"/><rect x="718" y="677" width="3" height="1"/><rect x="722" y="678" width="3" height="2"/><rect x="726" y="678" width="3" height="4"/><rect x="730" y="678" width="3" height="5"/><rect x="734" y="678" width="3" height="6"/><rect x="738" y="678" width="3" height="8"/><rect x="742" y="678" width="3" height="11"/><rect x="746" y="678" width="3" height="13"/><rect x="750" y="678" width="3" height="16"/><rect x="754" y="678" width="3" height="17"/><rect x="758" y="678" width="3" height="19"/><rect x="762" y="678" width="3" height="23"/><rect x="766" y="678" width="3" height="28"/><rect x="770" y="678" width="3" height="32"/><rect x="774" y="678" width="3" height="34"/><rect x="778" y="678" width="3" height="35"/><rect x="782" y="678" width="3" height="37"/><rect x="786" y="678" width="3" height="37"/><rect x="790" y="678" width="3" height="35"/><rect x="794" y="678" width="3" height="34"/><rect x="798" y="678" width="3" height="33"/><rect x="802" y="678" width="3" height="31"/><rect x="806" y="678" width="3" height="30"/><rect x="810" y="678" width="3" height="25"/><rect x="814" y="678" width="3" height="21"/><rect x="818" y="678" width="3" height="17"/><rect x="822" y="678" width="3" height="14"/><rect x="826" y="678" width="3" height="10"/><rect x="830" y="678" width="3" height="7"/><rect x="834" y="678" width="3" height="1"/><rect x="838" y="672" width="3" height="6"/><rect x="842" y="668" width="3" height="10"/><rect x="846" y="664" width="3" height="14"/><rect x="850" y="660" width="3" height="18"/></g>
<g stroke="#0000FF" stroke-width="2" fill="none" shape-rendering="crispEdges">
<line x1="3" y1="143.8" x2="295.6" y2="409.3"/>
<line x1="166.8" y1="380.03" x2="895.6" y2="218.7"/>
</g>
<g shape-rendering="crispEdges" fill="#000">
<rect x="843" y="11" width="24" height="1"/>
<rect x="843" y="71" width="24" height="1"/>
<rect x="843" y="109" width="24" height="1"/>
<rect x="843" y="169" width="24" height="1"/>
<rect x="843" y="229" width="24" height="1"/>
<rect x="843" y="267" width="24" height="1"/>
<rect x="843" y="327" width="24" height="1"/>
<rect x="843" y="388" width="24" height="1"/>
<rect x="843" y="426" width="24" height="1"/>
</g>
<text x="897.8" y="19.5" textLength="41.8" lengthAdjust="spacingAndGlyphs">R5 3.1620</text>
<text x="897.8" y="79.5" textLength="41.8" lengthAdjust="spacingAndGlyphs">R4 3.0960</text>
<text x="897.8" y="117.5" textLength="41.8" lengthAdjust="spacingAndGlyphs">R3 3.0540</text>
<text x="897.8" y="177.5" textLength="41.8" lengthAdjust="spacingAndGlyphs">R2 2.9870</text>
<text x="897.8" y="237.5" textLength="41.8" lengthAdjust="spacingAndGlyphs">R1 2.9210</text>
<text x="897.8" y="275.5" textLength="41.8" lengthAdjust="spacingAndGlyphs">S1 2.8790</text>
<text x="897.8" y="335.5" textLength="41.8" lengthAdjust="spacingAndGlyphs">S2 2.8130</text>
<text x="897.8" y="396.5" textLength="41.8" lengthAdjust="spacingAndGlyphs">S3 2.7460</text>
<text x="897.8" y="434.5" textLength="41.8" lengthAdjust="spacingAndGlyphs">S4 2.7040</text>
<g shape-rendering="crispEdges" fill="#000">
<rect x="2" y="2" width="1357" height="1"/>
<rect x="2" y="448" width="1357" height="1"/>
<rect x="2" y="2" width="1" height="447"/>
<rect x="1358" y="2" width="1" height="447"/>
<rect x="2" y="450" width="1357" height="1"/>
<rect x="2" y="590" width="1357" height="1"/>
<rect x="2" y="450" width="1" height="141"/>
<rect x="1358" y="450" width="1" height="141"/>
<rect x="2" y="592" width="1357" height="1"/>
<rect x="2" y="729" width="1357" height="1"/>
<rect x="2" y="592" width="1" height="138"/>
<rect x="1358" y="592" width="1" height="138"/>
<rect x="1359" y="8" width="2" height="1"/>
<rect x="1359" y="44" width="2" height="1"/>
<rect x="1359" y="81" width="2" height="1"/>
<rect x="1359" y="117" width="2" height="1"/>
<rect x="1359" y="153" width="2" height="1"/>
<rect x="1359" y="189" width="2" height="1"/>
<rect x="1359" y="226" width="2" height="1"/>
<rect x="1359" y="262" width="2" height="1"/>
<rect x="1359" y="298" width="2" height="1"/>
<rect x="1359" y="334" width="2" height="1"/>
<rect x="1359" y="370" width="2" height="1"/>
<rect x="1359" y="407" width="2" height="1"/>
<rect x="1359" y="443" width="2" height="1"/>
<rect x="1359" y="532" width="2" height="1"/>
<rect x="1359" y="678" width="2" height="1"/>
<rect x="3" y="730" width="1" height="3"/>
<rect x="67" y="730" width="1" height="3"/>
<rect x="131" y="730" width="1" height="3"/>
<rect x="195" y="730" width="1" height="3"/>
<rect x="259" y="730" width="1" height="3"/>
<rect x="323" y="730" width="1" height="3"/>
<rect x="387" y="730" width="1" height="3"/>
<rect x="451" y="730" width="1" height="3"/>
<rect x="515" y="730" width="1" height="3"/>
<rect x="579" y="730" width="1" height="3"/>
<rect x="643" y="730" width="1" height="3"/>
<rect x="707" y="730" width="1" height="3"/>
<rect x="771" y="730" width="1" height="3"/>
<rect x="835" y="730" width="1" height="3"/>
<rect x="1359" y="452" width="1" height="1"/>
<rect x="1359" y="589" width="1" height="1"/>
<rect x="1359" y="594" width="1" height="1"/>
<rect x="1359" y="728" width="1" height="1"/>
</g>
<text class="t" x="1364" y="12" textLength="23" lengthAdjust="spacingAndGlyphs">3.165</text>
<text class="t" x="1364" y="48" textLength="23" lengthAdjust="spacingAndGlyphs">3.125</text>
<text class="t" x="1364" y="85" textLength="23" lengthAdjust="spacingAndGlyphs">3.085</text>
<text class="t" x="1364" y="121" textLength="23" lengthAdjust="spacingAndGlyphs">3.045</text>
<text class="t" x="1364" y="157" textLength="23" lengthAdjust="spacingAndGlyphs">3.005</text>
<text class="t" x="1364" y="193" textLength="23" lengthAdjust="spacingAndGlyphs">2.965</text>
<text class="t" x="1364" y="230" textLength="23" lengthAdjust="spacingAndGlyphs">2.925</text>
<text class="t" x="1364" y="266" textLength="23" lengthAdjust="spacingAndGlyphs">2.885</text>
<text class="t" x="1364" y="302" textLength="23" lengthAdjust="spacingAndGlyphs">2.845</text>
<text class="t" x="1364" y="338" textLength="23" lengthAdjust="spacingAndGlyphs">2.805</text>
<text class="t" x="1364" y="374" textLength="23" lengthAdjust="spacingAndGlyphs">2.765</text>
<text class="t" x="1364" y="411" textLength="23" lengthAdjust="spacingAndGlyphs">2.725</text>
<text class="t" x="1364" y="447" textLength="23" lengthAdjust="spacingAndGlyphs">2.685</text>
<text class="t" x="1362" y="461" textLength="27.4" lengthAdjust="spacingAndGlyphs">0.1461</text>
<text class="t" x="1362" y="536" textLength="17.6" lengthAdjust="spacingAndGlyphs">0.00</text>
<text class="t" x="1362" y="587" textLength="30.6" lengthAdjust="spacingAndGlyphs">-0.1053</text>
<text class="t" x="1362" y="603" textLength="32.4" lengthAdjust="spacingAndGlyphs">0.03676</text>
<text class="t" x="1362" y="682" textLength="17.6" lengthAdjust="spacingAndGlyphs">0.00</text>
<text class="t" x="1362" y="726" textLength="35.5" lengthAdjust="spacingAndGlyphs">-0.02204</text>
<rect x="1360" y="94" width="31" height="11" fill="#000" shape-rendering="crispEdges"/>
<text class="t" x="1364" y="103" textLength="23" lengthAdjust="spacingAndGlyphs" style="fill:#fff;stroke:#fff">3.065</text>
<text class="t" x="2.8" y="741.6" textLength="45.7" lengthAdjust="spacingAndGlyphs">26 Jul 2017</text>
<text class="t" x="66.8" y="741.6" textLength="55" lengthAdjust="spacingAndGlyphs">31 Jul 09:00</text>
<text class="t" x="130.8" y="741.6" textLength="49.3" lengthAdjust="spacingAndGlyphs">3 Aug 01:00</text>
<text class="t" x="194.8" y="741.6" textLength="49.3" lengthAdjust="spacingAndGlyphs">7 Aug 17:00</text>
<text class="t" x="258.8" y="741.6" textLength="55" lengthAdjust="spacingAndGlyphs">10 Aug 09:00</text>
<text class="t" x="322.8" y="741.6" textLength="55" lengthAdjust="spacingAndGlyphs">15 Aug 01:00</text>
<text class="t" x="386.8" y="741.6" textLength="55" lengthAdjust="spacingAndGlyphs">17 Aug 17:00</text>
<text class="t" x="450.8" y="741.6" textLength="55" lengthAdjust="spacingAndGlyphs">22 Aug 09:00</text>
<text class="t" x="514.8" y="741.6" textLength="55" lengthAdjust="spacingAndGlyphs">25 Aug 01:00</text>
<text class="t" x="578.8" y="741.6" textLength="55" lengthAdjust="spacingAndGlyphs">29 Aug 17:00</text>
<text class="t" x="642.8" y="741.6" textLength="49.3" lengthAdjust="spacingAndGlyphs">1 Sep 09:00</text>
<text class="t" x="706.8" y="741.6" textLength="49.3" lengthAdjust="spacingAndGlyphs">6 Sep 05:00</text>
<text class="t" x="770.8" y="741.6" textLength="49.3" lengthAdjust="spacingAndGlyphs">8 Sep 21:00</text>
<text class="t" x="834.8" y="741.6" textLength="55" lengthAdjust="spacingAndGlyphs">13 Sep 13:00</text>
<path d="M6 8.5h7l-3.5 4z" fill="#000"/>
<text class="t" x="19" y="14" textLength="35" lengthAdjust="spacingAndGlyphs">#NG,H4</text>
<text class="t" x="60" y="14" textLength="22" lengthAdjust="spacingAndGlyphs">3.061</text>
<text class="t" x="86.3" y="14" textLength="22" lengthAdjust="spacingAndGlyphs">3.067</text>
<text class="t" x="112.3" y="14" textLength="22" lengthAdjust="spacingAndGlyphs">3.061</text>
<text class="t" x="138.3" y="14" textLength="22" lengthAdjust="spacingAndGlyphs">3.065</text>
<text class="t" x="7.5" y="463" textLength="45.5" lengthAdjust="spacingAndGlyphs">AO 0.0745</text>
<text class="t" x="7" y="605" textLength="104.5" lengthAdjust="spacingAndGlyphs">OsMA(36,72,27) 0.00789</text>
<rect x="3" y="681" width="394" height="66" fill="#D94545" fill-opacity="0.48"/>
<g fill-opacity="0.9">
<text x="23" y="725" style="font-size:37px;fill:#fff">[</text>
<text x="52.5" y="726.5" textLength="254" lengthAdjust="spacingAndGlyphs" style="font-size:40px;fill:#fff">www.instaforex</text>
<text x="307.5" y="726.5" textLength="52.5" lengthAdjust="spacingAndGlyphs" style="font-size:28px;fill:#fff">.com</text>
<text x="366.5" y="725.4" style="font-size:25.5px;fill:#fff">]</text>
</g>
</svg></body></html>
